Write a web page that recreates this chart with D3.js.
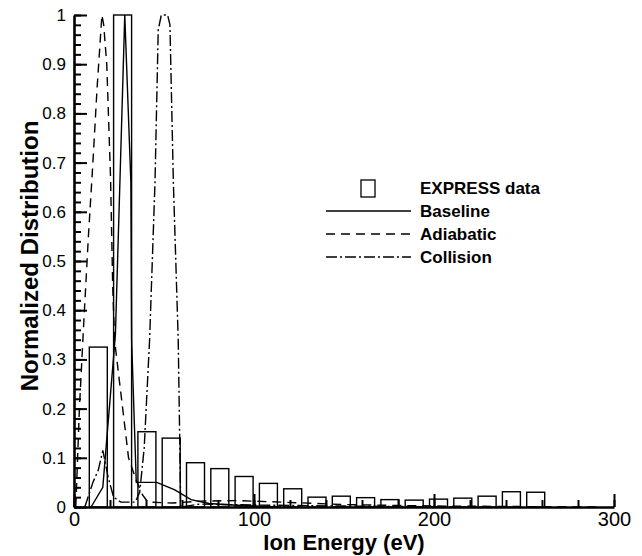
<!DOCTYPE html>
<html>
<head>
<meta charset="utf-8">
<script src="https://cdn.jsdelivr.net/npm/d3@7"></script>
<style>
  body { margin: 0; background: #fff; }
  svg { display: block; }
  text { font-family: "Liberation Sans", Arial, Helvetica, sans-serif; fill: #000; }
</style>
</head>
<body>
<svg id="chart" width="642" height="556"></svg>
<script>
// Measured ion energy histogram (bin centre in eV, normalized count)
const binCenters = [13.5, 27, 40.5, 54, 67.5, 81, 94.5, 108, 121.5, 135, 148.5, 162, 175.5, 189, 202.5, 216, 229.5, 243, 256.5];
const binValues  = [0.325, 1.0, 0.153, 0.14, 0.09, 0.078, 0.062, 0.048, 0.037, 0.02, 0.022, 0.019, 0.015, 0.014, 0.016, 0.018, 0.022, 0.031, 0.03];

// Simulated distributions, [energy eV, normalized value]
const baseline = [[9.5, 0], [16, 0.04], [23, 0.35], [25.5, 0.66], [28.2, 1.0], [31.6, 0.66], [32, 0.34], [34.6, 0.05],
                  [41, 0.05], [46, 0.05], [56, 0.035], [65, 0.015], [75, 0.007], [88, 0.004], [100, 0.002], [115, 0]];
const adiabatic = [[1, 0], [3, 0.2], [5.5, 0.38], [8, 0.55], [10.5, 0.7], [12.8, 0.85], [15.5, 1.0], [16.5, 0.98],
                   [18.2, 0.9], [20.3, 0.67], [21.5, 0.45], [22.5, 0.34], [30.3, 0.1], [34.5, 0.055], [38, 0.025],
                   [41, 0.01], [55, 0.008], [70, 0.012], [90, 0.013], [115, 0.01], [150, 0.005], [200, 0.002], [290, 0]];
const collision = [[6, 0], [10.5, 0.05], [13.5, 0.075], [16, 0.115], [19, 0.06], [22, 0.02], [26, 0.01], [34, 0.01],
                   [36.5, 0.03], [39, 0.12], [42, 0.34], [45, 0.66], [46.8, 0.97], [48.5, 1.0], [52, 1.0], [53.3, 0.98],
                   [55.2, 0.66], [57.9, 0.34], [59.3, 0.0], [70, 0.006], [100, 0.004], [150, 0.002], [220, 0]];

const xTicks = [0, 100, 200, 300];
const yTicks = [0, 0.1, 0.2, 0.3, 0.4, 0.5, 0.6, 0.7, 0.8, 0.9, 1];
const legendLabels = ["EXPRESS data", "Baseline", "Adiabatic", "Collision"];

const svg = d3.select("#chart");
svg.append("rect").attr("width", 642).attr("height", 556).attr("fill", "#fff");

const x = d3.scaleLinear().domain([0, 300]).range([74, 614]);
const y = d3.scaleLinear().domain([0, 1]).range([507, 15]);
const binWidth = 10;

// histogram bars (outlined)
svg.append("g").selectAll("rect")
  .data(binCenters.map((c, i) => ({ c, v: binValues[i] })))
  .join("rect")
  .attr("x", d => x(d.c - binWidth / 2))
  .attr("y", d => y(d.v))
  .attr("width", d => x(d.c + binWidth / 2) - x(d.c - binWidth / 2))
  .attr("height", d => y(0) - y(d.v))
  .attr("fill", "none")
  .attr("stroke", "#000")
  .attr("stroke-width", 1.4);

// model curves
const line = d3.line().x(d => x(d[0])).y(d => y(d[1]));
const styles = [
  { data: baseline, dash: null },
  { data: adiabatic, dash: "9,6" },
  { data: collision, dash: "11,3,2,3" }
];
styles.forEach(s => {
  svg.append("path")
    .attr("d", line(s.data))
    .attr("fill", "none")
    .attr("stroke", "#000")
    .attr("stroke-width", 1.4)
    .attr("stroke-dasharray", s.dash);
});

// y axis: major and minor ticks pointing into the plot
const fmt = d => String(+d.toFixed(1));
const yAxis = svg.append("g").attr("transform", `translate(${x(0)},0)`)
  .call(d3.axisLeft(y).tickValues(yTicks).tickFormat(fmt).tickSizeInner(-13).tickSizeOuter(0).tickPadding(8));
svg.append("g").attr("transform", `translate(${x(0)},0)`)
  .call(d3.axisLeft(y).tickValues(d3.range(0, 1.0001, 0.02)).tickFormat("").tickSizeInner(-7).tickSizeOuter(0))
  .call(g => g.select(".domain").remove());
yAxis.selectAll("text").attr("font-size", 17).style("font-family", "Liberation Sans, Arial, sans-serif");

// x axis
const xAxis = svg.append("g").attr("transform", `translate(0,${y(0)})`)
  .call(d3.axisBottom(x).tickValues(xTicks).tickFormat(d3.format("d")).tickSizeInner(-13).tickSizeOuter(0).tickPadding(5));
svg.append("g").attr("transform", `translate(0,${y(0)})`)
  .call(d3.axisBottom(x).tickValues(d3.range(0, 301, 20)).tickFormat("").tickSizeInner(-7).tickSizeOuter(0))
  .call(g => g.select(".domain").remove());
xAxis.selectAll("text").attr("font-size", 20).style("font-family", "Liberation Sans, Arial, sans-serif");

svg.selectAll(".domain").attr("stroke", "#000").attr("stroke-width", 2.6);
svg.selectAll(".tick line").attr("stroke", "#000").attr("stroke-width", 2);

// axis titles
svg.append("text")
  .attr("x", 344).attr("y", 550)
  .attr("text-anchor", "middle")
  .attr("font-size", 22).attr("font-weight", "bold")
  .text("Ion Energy (eV)");
svg.append("text")
  .attr("transform", "translate(38,256) rotate(-90)")
  .attr("text-anchor", "middle")
  .attr("font-size", 24).attr("font-weight", "bold")
  .text("Normalized Distribution");

// legend
const lg = svg.append("g");
lg.append("rect").attr("x", 361).attr("y", 180).attr("width", 14).attr("height", 17)
  .attr("fill", "none").attr("stroke", "#000").attr("stroke-width", 1.3);
const rowY = [188, 211, 234, 257];
[null, "9,6", "11,3,2,3"].forEach((dash, i) => {
  lg.append("line")
    .attr("x1", 326).attr("x2", 411)
    .attr("y1", rowY[i + 1]).attr("y2", rowY[i + 1])
    .attr("stroke", "#000").attr("stroke-width", 1.3)
    .attr("stroke-dasharray", dash);
});
legendLabels.forEach((t, i) => {
  lg.append("text")
    .attr("x", 420).attr("y", rowY[i] + 6)
    .attr("font-size", 17).attr("font-weight", "bold")
    .text(t);
});
</script>
</body>
</html>
